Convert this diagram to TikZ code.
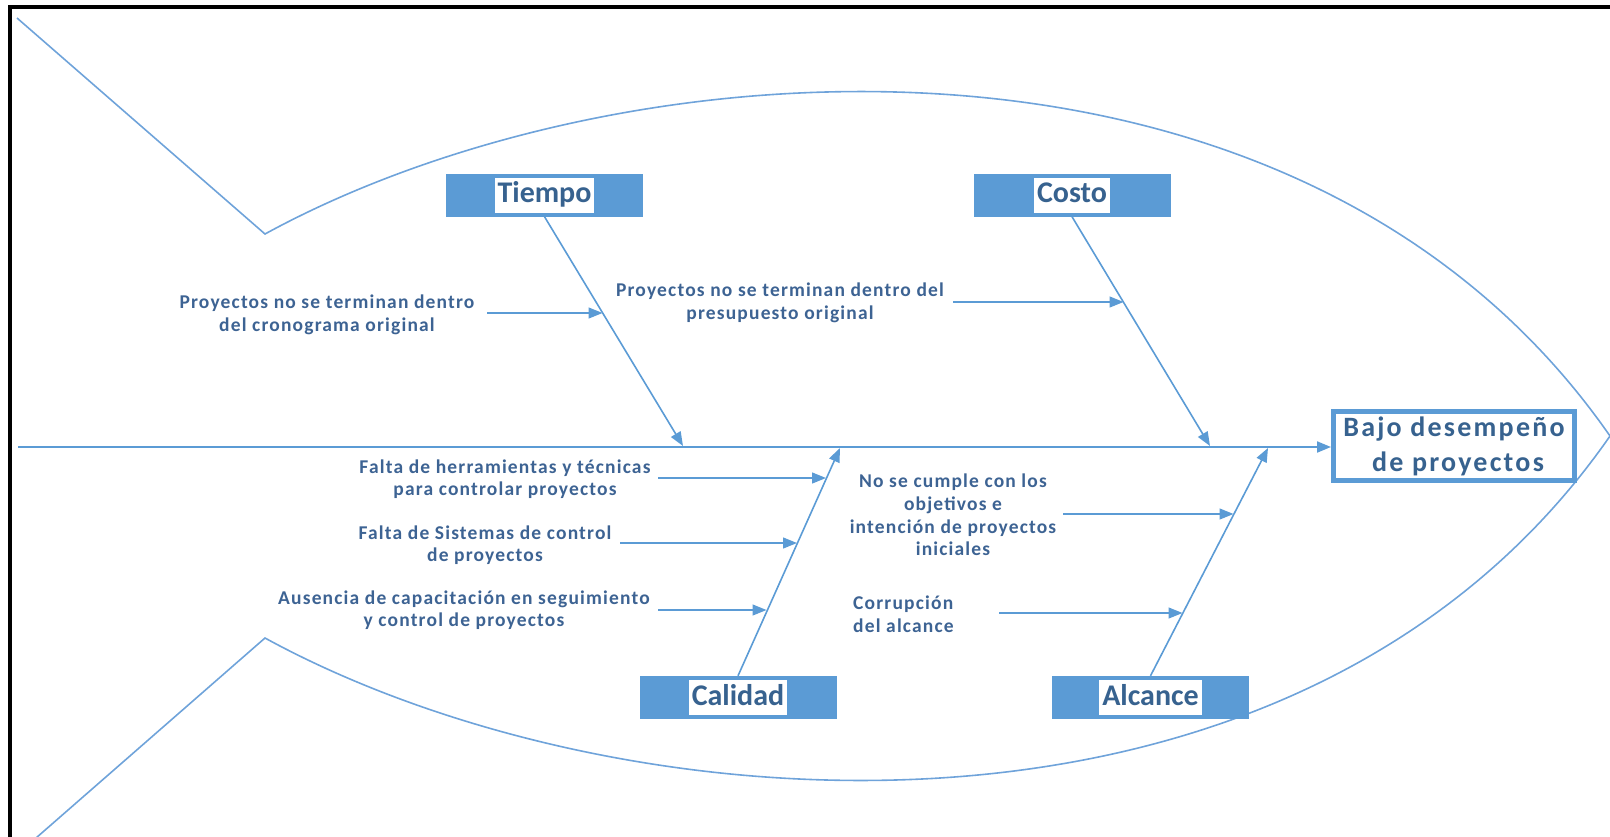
\documentclass[tikz,border=0pt]{standalone}
\usepackage{fontspec}
\setmainfont{Carlito}
\newfontfamily\causefont[LetterSpace=6]{Carlito}
\newfontfamily\headfont[LetterSpace=8]{Carlito}
\usetikzlibrary{arrows.meta,calc}
\definecolor{fishblue}{HTML}{5B9BD5}
\definecolor{outline}{HTML}{6FA3DA}
\definecolor{txtblue}{HTML}{3D6393}
\definecolor{labblue}{HTML}{37628F}
\newcommand\catlabel[1]{{\fboxsep=3pt\colorbox{white}{\rule[-7pt]{0pt}{29pt}#1}}}
\begin{document}
\begin{tikzpicture}[x=1pt,y=-1pt,
  fish/.style={draw=outline,line width=1.6pt},
  tipstyle/.style={-{Triangle[length=14pt,width=11pt]}},
  bone/.style={draw=fishblue,line width=1.6pt,tipstyle},
  cause/.style={draw=fishblue,line width=1.3pt,tipstyle},
  catbox/.style={fill=fishblue,minimum width=197pt,minimum height=43pt,inner sep=0pt,
    font=\fontsize{30}{30}\selectfont\bfseries,text=labblue},
  causetext/.style={align=center,inner sep=0pt,text=txtblue,
    font=\causefont\bfseries\fontsize{19.5}{22.6}\selectfont},
  headbox/.style={draw=fishblue,line width=5pt,fill=white,minimum width=241pt,
    minimum height=69pt,inner sep=0pt,align=center,text=labblue,
    font=\headfont\bfseries\fontsize{28}{35}\selectfont}
]
\useasboundingbox (0,0) rectangle (1610,836);
% frame
\draw[black,line width=3.2pt] (10,840) -- (10,7) -- (1612,7);
% fish outline
\draw[fish] (17,18) -- (265,234) .. controls (620,40) and (1300,-10) .. (1610,436);
\draw[fish] (36,838) -- (265,638) .. controls (620,832) and (1300,882) .. (1610,436);
% head
\node[headbox] (head) at (1454,446) {Bajo desempeño\\\hspace*{8pt}de proyectos};
% spine
\coordinate (tailend) at (18,447);
\draw[draw=fishblue,line width=2pt,tipstyle] (tailend) -- (tailend -| head.west);
% category boxes
\node[catbox] (tiempo) at (544.5,195) {\catlabel{Tiempo}};
\node[catbox] (costo) at (1072,195) {\catlabel{Costo}};
\node[catbox] (calidad) at (738,697.5) {\catlabel{Calidad}};
\node[catbox] (alcance) at (1150.5,697.5) {\catlabel{Alcance}};
% bone ends on spine
\coordinate (tEnd) at (683,446);
\coordinate (cEnd) at (1210,446);
\coordinate (qEnd) at (840,448);
\coordinate (aEnd) at (1268,448);
\draw[bone] (tiempo.south) -- (tEnd);
\draw[bone] (costo.south) -- (cEnd);
\draw[bone] (calidad.north) -- (qEnd);
\draw[bone] (alcance.north) -- (aEnd);
% cause texts
\node[causetext] (c1) at (327,315) {Proyectos no se terminan dentro\\del cronograma original};
\node[causetext] (c2) at (780,303) {Proyectos no se terminan dentro del\\presupuesto original};
\node[causetext] (c3) at (505,479) {Falta de herramientas y técnicas\\para controlar proyectos};
\node[causetext] (c4) at (485,545) {Falta de Sistemas de control\\de proyectos};
\node[causetext] (c5) at (464,610) {Ausencia de capacitación en seguimiento\\y control de proyectos};
\node[causetext] (c6) at (953,515) {No se cumple con los\\objetivos e\\intención de proyectos\\iniciales};
\node[causetext,align=left,anchor=west] (c7) at (853,614) {Corrupción\\del alcance};
% cause arrows
\coordinate (s1) at (487,313);  \coordinate (e1) at (602.5,313);
\coordinate (s2) at (953,302);  \coordinate (e2) at (1123.5,302);
\coordinate (s3) at (658,478);  \coordinate (e3) at (826,478);
\coordinate (s4) at (620,543);  \coordinate (e4) at (797,543);
\coordinate (s5) at (658,610);  \coordinate (e5) at (766.5,610);
\coordinate (s6) at (1063,514); \coordinate (e6) at (1233.5,514);
\coordinate (s7) at (999,613);  \coordinate (e7) at (1182.5,613);
\foreach \i in {1,...,7} {\draw[cause] (s\i) -- (e\i);}
\end{tikzpicture}
\end{document}
